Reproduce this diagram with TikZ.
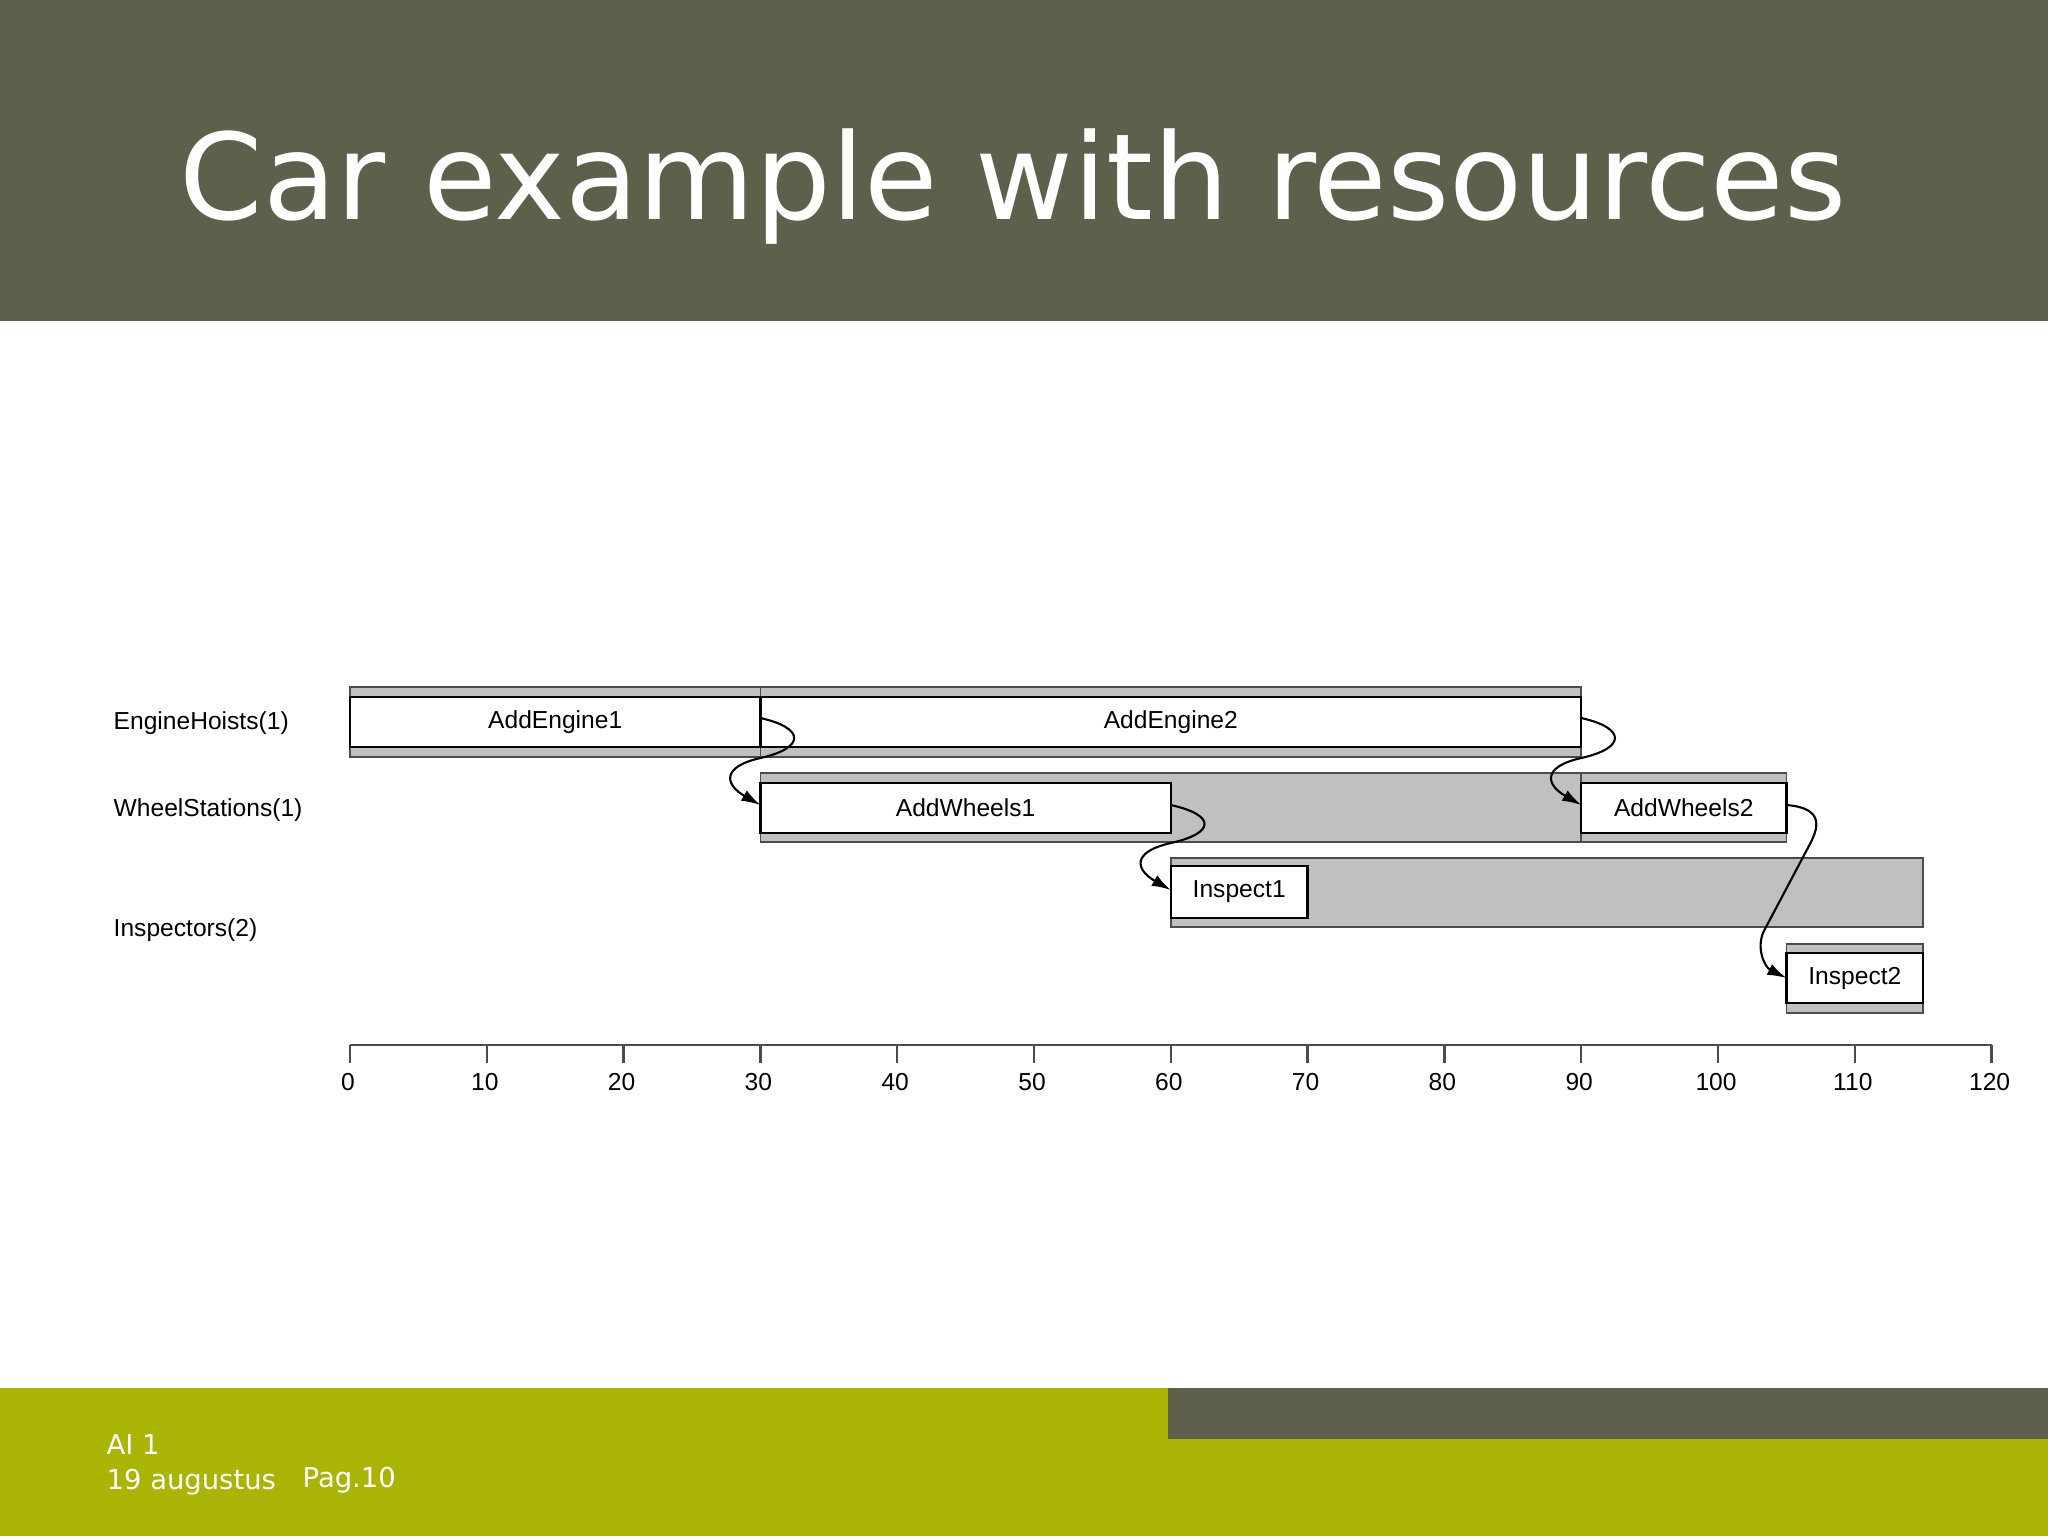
\documentclass[tikz,border=0pt]{standalone}
\usepackage{fontspec}
\setmainfont{Liberation Sans}
\newfontfamily\titlefont{DejaVu Sans}
\usetikzlibrary{arrows.meta}
\definecolor{hdrolive}{RGB}{94,96,75}
\definecolor{footgreen}{RGB}{169,180,5}
\definecolor{bargray}{RGB}{192,192,194}
\begin{document}
\begin{tikzpicture}[x=0.1mm,y=0.1mm,
  task/.style={draw=black, line width=0.7pt, fill=white, inner sep=0pt, outer sep=0pt,
    font=\fontsize{7}{8}\selectfont, text=black},
  stripe/.style={fill=bargray, draw=black!70, line width=0.45pt},
  conn/.style={line width=0.6pt, -{Latex[length=1.9mm,width=1.2mm]}},
  reslabel/.style={anchor=west, inner sep=0pt, font=\fontsize{7}{8}\selectfont},
  axisline/.style={draw=black!70, line width=0.7pt},
  ticklabel/.style={inner sep=0pt, font=\fontsize{7}{8}\selectfont},
  foot/.style={anchor=base west, inner sep=0pt, text=white, font=\titlefont\fontsize{7.8}{9}\selectfont}]
\useasboundingbox (0,0) rectangle (2048,-1536);
\fill[white] (0,0) rectangle (2048,-1536);
% header
\fill[hdrolive] (0,0) rectangle (2048,-321);
\node[anchor=base west, inner sep=0pt, text=white, font=\titlefont\fontsize{34}{40}\selectfont] (title) at (179,-219) {Car example with resources};
% footer
\fill[footgreen] (0,-1388) rectangle (2048,-1536);
\fill[hdrolive] (1168,-1388) rectangle (2048,-1439);
\node[foot] (f1) at (106,-1454) {AI 1};
\node[foot] (f2) at (106,-1489) {19 augustus};
\node[foot] (f3) at (302,-1487) {Pag.10};
% resource labels
\node[reslabel] (r1) at (113,-723) {EngineHoists(1)};
\node[reslabel] (r2) at (113,-810) {WheelStations(1)};
\node[reslabel] (r3) at (113,-930) {Inspectors(2)};
% backgrounds / stripes
\filldraw[stripe] (350,-687) rectangle (760.4,-757);
\filldraw[stripe] (760.4,-687) rectangle (1581.2,-757);
\filldraw[stripe] (760.4,-773) rectangle (1786.4,-842);
\filldraw[stripe] (1581.2,-773) rectangle (1786.4,-842);
\filldraw[stripe] (1170.8,-858) rectangle (1923.2,-927);
\filldraw[stripe] (1786.4,-944) rectangle (1923.2,-1013);
% tasks
\node[task, minimum width=41.04mm, minimum height=5mm] (ae1) at (555.2,-722) {AddEngine1};
\node[task, minimum width=82.08mm, minimum height=5mm] (ae2) at (1170.8,-722) {AddEngine2};
\node[task, minimum width=41.04mm, minimum height=5mm] (aw1) at (965.6,-808) {AddWheels1};
\node[task, minimum width=20.52mm, minimum height=5mm] (aw2) at (1683.8,-808) {AddWheels2};
\node[task, minimum width=13.68mm, minimum height=5.2mm] (in1) at (1239.2,-892) {Inspect1};
\node[task, minimum width=13.68mm, minimum height=5mm] (in2) at (1854.8,-978) {Inspect2};
% connectors
\draw[conn] ([yshift=0.4mm]ae1.east) .. controls +(4.5mm,-1mm) and +(4.5mm,1mm) .. ++(0,-4mm)
  .. controls +(-4mm,-0.9mm) and +(-3.5mm,2mm) .. ([yshift=0.3mm]aw1.west);
\draw[conn] ([yshift=0.4mm]ae2.east) .. controls +(4.5mm,-1mm) and +(4.5mm,1mm) .. ++(0,-4mm)
  .. controls +(-4mm,-0.9mm) and +(-3.5mm,2mm) .. ([yshift=0.3mm]aw2.west);
\draw[conn] ([yshift=0.3mm]aw1.east) .. controls +(4.5mm,-1mm) and +(4.5mm,1mm) .. ++(0,-3.8mm)
  .. controls +(-4mm,-0.9mm) and +(-3.5mm,2mm) .. ([yshift=0.2mm]in1.west);
\draw[conn] ([yshift=0.3mm]aw2.east) .. controls +(4mm,-0.3mm) and +(0.8mm,1.5mm) .. ++(2.3mm,-4mm)
  -- ++(-4.5mm,-8.5mm) .. controls +(-0.9mm,-1.7mm) and +(-2.2mm,1.1mm) .. (in2.west);
% axis
\draw[axisline] (350,-1045) -- (1991.6,-1045);
\foreach \v in {0,10,...,120} {
  \draw[axisline] ({350+13.68*\v},-1045) -- ++(0,-18);
  \node[ticklabel] (tl\v) at ({350+13.68*\v-2},-1082) {\v};
}
\end{tikzpicture}
\end{document}
